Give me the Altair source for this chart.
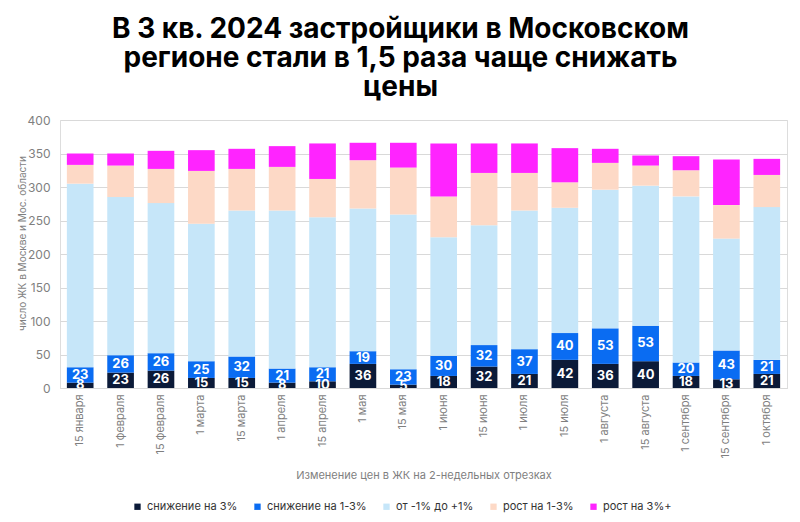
import altair as alt
import pandas as pd

dates = ["15 января", "1 февраля", "15 февраля", "1 марта", "15 марта", "1 апреля",
         "15 апреля", "1 мая", "15 мая", "1 июня", "15 июня", "1 июля", "15 июля",
         "1 августа", "15 августа", "1 сентября", "15 сентября", "1 октября"]
series_names = ["снижение на 3%", "снижение на 1-3%", "от -1% до +1%", "рост на 1-3%", "рост на 3%+"]
down3 = [8, 23, 26, 15, 15, 8, 10, 36, 5, 18, 32, 21, 42, 36, 40, 18, 13, 21]
down13 = [23, 26, 26, 25, 32, 21, 21, 19, 23, 30, 32, 37, 40, 53, 53, 20, 43, 21]
flat = [274, 236, 224, 205, 218, 236, 224, 213, 231, 177, 179, 207, 187, 207, 209, 248, 167, 228]
up13 = [28, 47, 51, 79, 62, 65, 57, 72, 70, 61, 78, 56, 38, 40, 30, 39, 50, 48]
up3 = [17, 18, 27, 31, 30, 31, 53, 26, 37, 79, 44, 44, 51, 21, 15, 21, 68, 24]
colors = ["#0b1a38", "#0a6cf2", "#c6e6f9", "#fdd9c6", "#ff24ff"]
y_ticks = [0, 50, 100, 150, 200, 250, 300, 350, 400]

rows = []
for k, vals in enumerate([down3, down13, flat, up13, up3]):
    for d, v in zip(dates, vals):
        rows.append({"date": d, "series": series_names[k], "order": k, "value": v})
df = pd.DataFrame(rows)

FONT = "Inter"
GREY = "#7f7f7f"

y_scale = alt.Scale(domain=[0, 400], nice=False)
x_scale = alt.Scale(paddingInner=0.34, paddingOuter=0.17)

x_axis = alt.Axis(title="Изменение цен в ЖК на 2-недельных отрезках",
                  labelAngle=270, labelColor=GREY, labelFontSize=11,
                  labelFont=FONT, labelPadding=6, ticks=False,
                  domainColor="#d9d9d9", titleColor=GREY, titleFont=FONT,
                  titleFontSize=11, titleFontWeight="normal", titleY=87,
                  titleBaseline="middle")
y_axis = alt.Axis(title="число ЖК в Москве и Мос. области",
                  values=y_ticks, grid=True, gridColor="#d9d9d9",
                  labelOverlap=False,
                  domain=False, ticks=False, labelColor=GREY, labelFontSize=12,
                  labelFont=FONT, labelPadding=10, titleColor=GREY, titleFont=FONT,
                  titleFontSize=10, titleFontWeight="normal",
                  titleX=-38, titleY=123, titleAngle=270,
                  titleAlign="center", titleBaseline="middle")

bars = alt.Chart(df).mark_bar().encode(
    x=alt.X("date:N", sort=dates, scale=x_scale, axis=x_axis),
    y=alt.Y("sum(value):Q", stack="zero", scale=y_scale, axis=y_axis),
    color=alt.Color("series:N", sort=series_names,
                    scale=alt.Scale(domain=series_names, range=colors),
                    legend=alt.Legend(title=None, orient="none", legendX=72, legendY=381,
                                      direction="horizontal", symbolType="square",
                                      symbolSize=40, symbolStrokeWidth=0,
                                      labelFontSize=11, labelFont=FONT, labelColor="#333333",
                                      columnPadding=14, labelLimit=300)),
    order=alt.Order("order:Q", sort="ascending"),
)

labels = alt.Chart(df).transform_stack(
    stack="value", groupby=["date"], as_=["v0", "v1"], sort=[alt.SortField("order", "ascending")]
).transform_filter("datum.order <= 1").transform_calculate(
    mid="(datum.v0 + datum.v1) / 2"
).mark_text(color="white", fontWeight="bold", fontSize=13, font=FONT, clip=True,
            baseline="middle").encode(
    x=alt.X("date:N", sort=dates, scale=x_scale, axis=x_axis),
    y=alt.Y("mid:Q", scale=y_scale, axis=y_axis),
    text=alt.Text("value:Q"),
)

chart = alt.layer(bars, labels).properties(
    width=727, height=268,
    autosize=alt.AutoSizeParams(type="none"),
    padding={"left": 52, "top": 112, "right": 5, "bottom": 126},
    title=alt.TitleParams(
        text=["В 3 кв. 2024 застройщики в Московском",
              "регионе стали в 1,5 раза чаще снижать", "цены"],
        font=FONT, fontSize=28, fontWeight="bold", color="#000000",
        anchor="middle", dx=-23, lineHeight=29, offset=12),
).configure_view(strokeWidth=0).configure(background="white")

chart.save("out.html", embed_options={"renderer": "svg", "actions": False})
